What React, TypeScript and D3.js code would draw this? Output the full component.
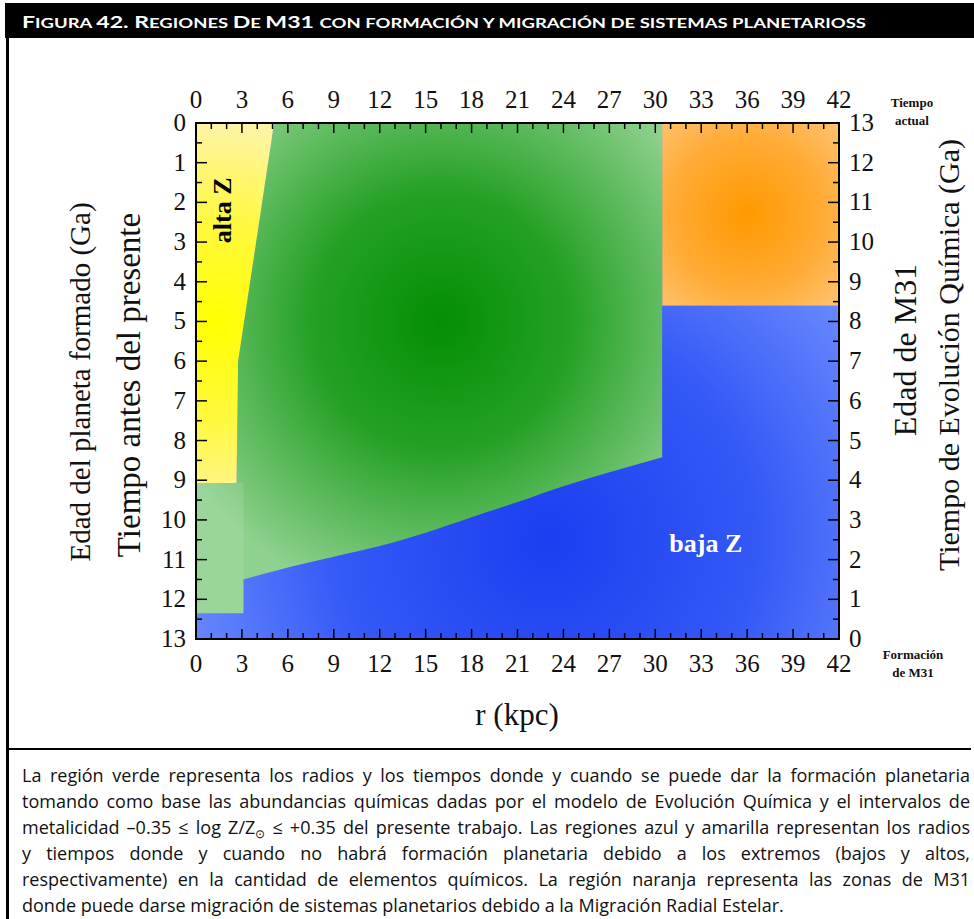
import React, { useEffect, useRef } from "react";
import * as d3 from "d3";

// tick labels
const rTicks = [0, 3, 6, 9, 12, 15, 18, 21, 24, 27, 30, 33, 36, 39, 42];
const ageTicks = [0, 1, 2, 3, 4, 5, 6, 7, 8, 9, 10, 11, 12, 13];
const evoTicks = [13, 12, 11, 10, 9, 8, 7, 6, 5, 4, 3, 2, 1, 0];

// boundary of the high metallicity (yellow) region, r in kpc, t in Ga before present
const highZEdge = [
  { r: 5.1, t: 0 },
  { r: 2.75, t: 6.0 },
  { r: 2.65, t: 9.07 },
];
// boundary between the planet formation (green) region and low metallicity (blue)
const lowZEdge = [
  { r: 3.1, t: 11.5 },
  { r: 6, t: 11.2 },
  { r: 9, t: 10.93 },
  { r: 12, t: 10.66 },
  { r: 15, t: 10.32 },
  { r: 18, t: 9.93 },
  { r: 21, t: 9.55 },
  { r: 24, t: 9.15 },
  { r: 27, t: 8.8 },
  { r: 30.45, t: 8.42 },
];
const innerColumn = [0, 3.1, 9.07, 12.35]; // r0, r1, t0, t1
const migrationZone = [30.45, 42, 0, 4.6]; // r0, r1, t0, t1

const captionLines = [
  "La región verde representa los radios y los tiempos donde y cuando se puede dar la formación planetaria",
  "tomando como base las abundancias químicas dadas por el modelo de Evolución Química y el intervalos de",
  "metalicidad –0.35 ≤ log Z/Z",
  "y tiempos donde y cuando no habrá formación planetaria debido a los extremos (bajos y altos,",
  "respectivamente) en la cantidad de elementos químicos. La región naranja representa las zonas de M31",
  "donde puede darse migración de sistemas planetarios debido a la Migración Radial Estelar.",
];
const captionLine3Rest = " ≤ +0.35 del presente trabajo. Las regiones azul y amarilla representan los radios";

// [text, big?]
const titleParts: [string, boolean][] = [
  ["F", true], ["IGURA ", false], ["42. ", true], ["R", true], ["EGIONES ", false],
  ["D", true], ["E ", false], ["M31 ", true],
  ["CON FORMACIÓN Y MIGRACIÓN DE SISTEMAS PLANETARIOSS", false],
];

export default function App() {
  const ref = useRef<SVGSVGElement>(null);

  useEffect(() => {
    document.body.style.margin = "0";
    const svg = d3.select(ref.current);
    svg.selectAll("*").remove();

    const serif = "'Liberation Serif', 'Times New Roman', serif";
    const sans = "Lato, 'Open Sans', sans-serif";
    const capFont = "'Open Sans', Lato, sans-serif";

    const x = d3.scaleLinear().domain([0, 42]).range([196, 839]);
    const y = d3.scaleLinear().domain([0, 13]).range([123, 639]);
    const yRight = d3.scaleLinear().domain([13, 0]).range([123, 639]);

    // frame
    svg.append("rect").attr("x", 5).attr("y", 3).attr("width", 969).attr("height", 35).attr("fill", "#000");
    svg.append("line").attr("x1", 7.5).attr("x2", 7.5).attr("y1", 38).attr("y2", 919)
      .attr("stroke", "#000").attr("stroke-width", 3);
    svg.append("line").attr("x1", 6).attr("x2", 971).attr("y1", 749).attr("y2", 749)
      .attr("stroke", "#000").attr("stroke-width", 2);

    // header title
    const title = svg.append("text").attr("x", 22).attr("y", 28)
      .attr("fill", "#fff").attr("font-family", sans).attr("font-weight", "bold")
      .attr("textLength", 844).attr("lengthAdjust", "spacingAndGlyphs");
    titleParts.forEach(([s, big]) => {
      title.append("tspan").attr("font-size", big ? 17.5 : 14).text(s);
    });

    // gradients
    const defs = svg.append("defs");
    function radial(id: string, cx: number, cy: number, r: number, stops: [number, string][]) {
      const g = defs.append("radialGradient").attr("id", id)
        .attr("gradientUnits", "userSpaceOnUse")
        .attr("cx", cx).attr("cy", cy).attr("r", r);
      stops.forEach(([o, c]) => g.append("stop").attr("offset", o).attr("stop-color", c));
    }
    radial("gBlue", x(23), y(10.5), 420, [[0, "#1c3ef0"], [0.5, "#3459f6"], [1, "#7896ff"]]);
    radial("gGreen", x(16), y(5), 290, [[0, "#038f03"], [0.45, "#25a125"], [1, "#8fd18f"]]);
    radial("gYellow", x(1.3), y(5), 200, [[0, "#ffff00"], [0.5, "#fff840"], [1, "#fff3a8"]]);
    radial("gOrange", x(36), y(2.3), 150, [[0, "#ff9900"], [0.5, "#ffab35"], [1, "#ffcc88"]]);

    const plot = svg.append("g");

    // blue background (baja Z)
    plot.append("rect")
      .attr("x", x(0)).attr("y", y(0))
      .attr("width", x(42) - x(0)).attr("height", y(13) - y(0))
      .attr("fill", "url(#gBlue)");

    // orange migration zone
    plot.append("rect")
      .attr("x", x(migrationZone[0])).attr("y", y(migrationZone[2]))
      .attr("width", x(migrationZone[1]) - x(migrationZone[0]))
      .attr("height", y(migrationZone[3]) - y(migrationZone[2]))
      .attr("fill", "url(#gOrange)");

    // green planet formation zone
    const edge = d3.line<{ r: number; t: number }>()
      .x((d) => x(d.r)).y((d) => y(d.t))
      .curve(d3.curveMonotoneX)(lowZEdge) as string;
    const last = lowZEdge[lowZEdge.length - 1];
    const hz = highZEdge;
    const greenPath =
      edge +
      `L${x(last.r)},${y(0)}` +
      hz.map((p) => `L${x(p.r)},${y(p.t)}`).join("") +
      `L${x(innerColumn[0])},${y(innerColumn[2])}` +
      `L${x(innerColumn[0])},${y(innerColumn[3])}` +
      `L${x(innerColumn[1])},${y(innerColumn[3])}Z`;
    plot.append("path").attr("d", greenPath).attr("fill", "url(#gGreen)");

    // slightly lighter inner column
    plot.append("rect")
      .attr("x", x(innerColumn[0])).attr("y", y(innerColumn[2]))
      .attr("width", x(innerColumn[1]) - x(innerColumn[0]))
      .attr("height", y(innerColumn[3]) - y(innerColumn[2]))
      .attr("fill", "#fff").attr("opacity", 0.1);

    // yellow alta Z
    const yellowPts: [number, number][] = [
      [x(0), y(0)],
      ...hz.map((p) => [x(p.r), y(p.t)] as [number, number]),
      [x(0), y(hz[hz.length - 1].t)],
    ];
    plot.append("path")
      .attr("d", "M" + yellowPts.map((p) => p.join(",")).join("L") + "Z")
      .attr("fill", "url(#gYellow)");

    // region labels
    svg.append("text")
      .attr("transform", `translate(${x(1.7) + 9},${y(2.2)}) rotate(-90)`)
      .attr("text-anchor", "middle").attr("font-family", serif)
      .attr("font-weight", "bold").attr("font-size", 26).text("alta Z");
    svg.append("text")
      .attr("x", x(33.3)).attr("y", y(10.58) + 9)
      .attr("text-anchor", "middle").attr("font-family", serif)
      .attr("font-weight", "bold").attr("font-size", 26).attr("fill", "#fff").text("baja Z");

    // ticks (inward on all sides)
    const ticks = svg.append("g").attr("stroke", "#000").attr("stroke-width", 1.5);
    d3.range(0, 42.01, 1).forEach((v) => {
      const len = v % 3 === 0 ? 10 : 6;
      ticks.append("line").attr("x1", x(v)).attr("x2", x(v)).attr("y1", y(13)).attr("y2", y(13) - len);
      ticks.append("line").attr("x1", x(v)).attr("x2", x(v)).attr("y1", y(0)).attr("y2", y(0) + len);
    });
    d3.range(0, 13.01, 0.5).forEach((v) => {
      const len = v % 1 === 0 ? 11 : 6;
      ticks.append("line").attr("x1", x(0)).attr("x2", x(0) + len).attr("y1", y(v)).attr("y2", y(v));
      ticks.append("line").attr("x1", x(42)).attr("x2", x(42) - len).attr("y1", y(v)).attr("y2", y(v));
    });

    // plot frame
    svg.append("rect")
      .attr("x", x(0)).attr("y", y(0))
      .attr("width", x(42) - x(0)).attr("height", y(13) - y(0))
      .attr("fill", "none").attr("stroke", "#000").attr("stroke-width", 2);

    // tick labels
    const labels = svg.append("g").attr("font-family", serif).attr("font-size", 25).attr("fill", "#111");
    rTicks.forEach((v) => {
      labels.append("text").attr("x", x(v)).attr("y", 108).attr("text-anchor", "middle").text(v);
      labels.append("text").attr("x", x(v)).attr("y", 672).attr("text-anchor", "middle").text(v);
    });
    ageTicks.forEach((v) => {
      labels.append("text").attr("x", 186).attr("y", y(v) + 8).attr("text-anchor", "end").text(v);
    });
    evoTicks.forEach((v) => {
      labels.append("text").attr("x", 849).attr("y", yRight(v) + 8).attr("text-anchor", "start").text(v);
    });

    // axis titles
    const titles = svg.append("g").attr("font-family", serif).attr("fill", "#111").attr("text-anchor", "middle");
    titles.append("text").attr("transform", "translate(90,382) rotate(-90)")
      .attr("font-size", 29).text("Edad del planeta formado (Ga)");
    titles.append("text").attr("transform", "translate(140,385) rotate(-90)")
      .attr("font-size", 33).text("Tiempo antes del presente");
    titles.append("text").attr("transform", "translate(916,350) rotate(-90)")
      .attr("font-size", 32).text("Edad de M31");
    titles.append("text").attr("transform", "translate(959,355) rotate(-90)")
      .attr("font-size", 30).text("Tiempo de Evolución Química (Ga)");
    titles.append("text").attr("x", 517).attr("y", 725).attr("font-size", 31).text("r (kpc)");

    const notes = svg.append("g").attr("font-family", serif).attr("font-weight", "bold")
      .attr("font-size", 13).attr("fill", "#111").attr("text-anchor", "middle");
    notes.append("text").attr("x", 912).attr("y", 107).text("Tiempo");
    notes.append("text").attr("x", 912).attr("y", 125).text("actual");
    notes.append("text").attr("x", 913).attr("y", 659).text("Formación");
    notes.append("text").attr("x", 913).attr("y", 677).text("de M31");

    // caption, justified by spreading the word spaces
    const cap = svg.append("g").attr("font-family", capFont).attr("font-size", 18).attr("fill", "#111");
    const lineWidth = 948;
    captionLines.forEach((line, i) => {
      const t = cap.append("text").attr("x", 22).attr("y", 782 + i * 26);
      let full = line;
      if (i === 2) {
        t.append("tspan").text(line);
        t.append("tspan").attr("dy", 4).attr("font-size", 12).text("⊙");
        t.append("tspan").attr("dy", -4).text(captionLine3Rest);
        full = line + "⊙" + captionLine3Rest;
      } else {
        t.text(line);
      }
      const node = t.node() as SVGTextElement;
      const len = node.getComputedTextLength();
      if (i < captionLines.length - 1) {
        const spaces = (full.match(/ /g) || []).length;
        if (spaces > 0 && len < lineWidth) {
          t.attr("word-spacing", (lineWidth - len) / spaces);
        } else if (len > lineWidth) {
          t.attr("textLength", lineWidth).attr("lengthAdjust", "spacingAndGlyphs");
        }
      } else if (len > 810) {
        t.attr("textLength", 810).attr("lengthAdjust", "spacingAndGlyphs");
      }
    });
  }, []);

  return <svg ref={ref} width={974} height={919} style={{ display: "block", background: "#fff" }} />;
}
